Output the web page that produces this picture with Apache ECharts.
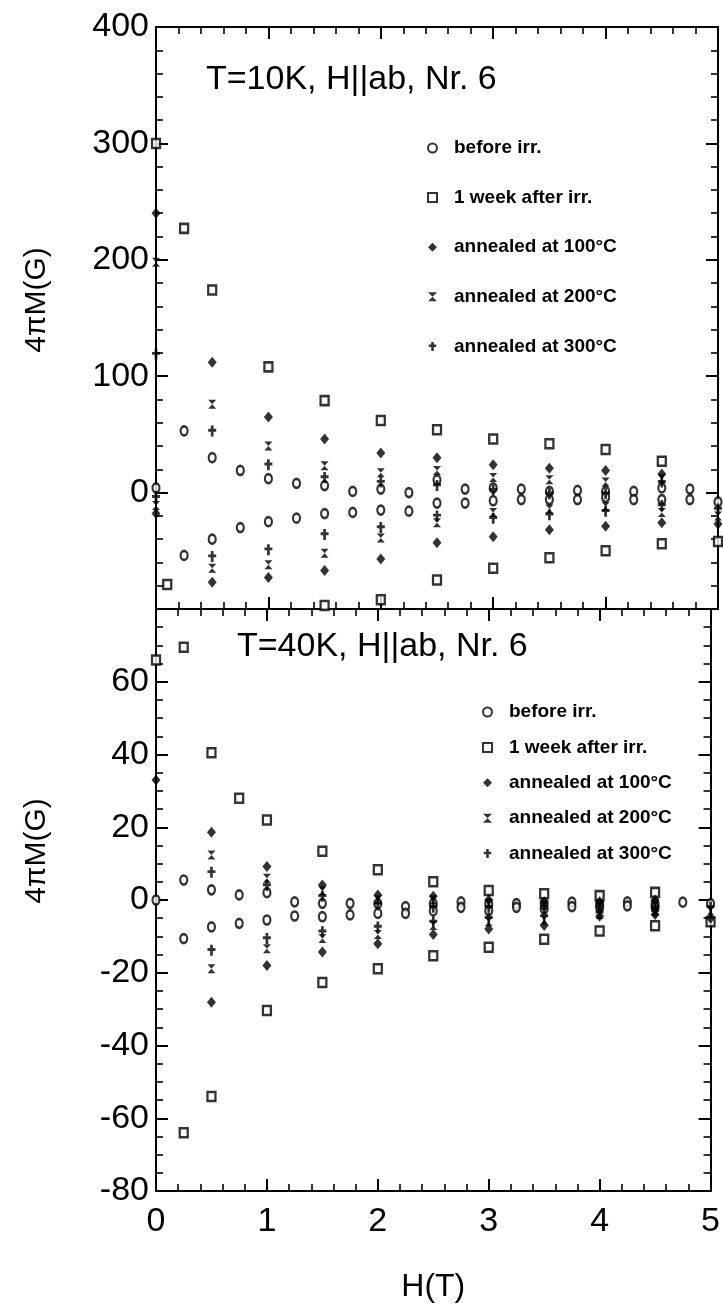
<!DOCTYPE html>
<html>
<head>
<meta charset="utf-8">
<script src="https://cdn.jsdelivr.net/npm/echarts/dist/echarts.min.js"></script>
<style>
  html, body { margin: 0; padding: 0; background: #fff; }
  #chart { width: 723px; height: 1313px; }
</style>
</head>
<body>
<div id="chart"></div>
<script>
// series names (legend)
const names = ['before irr.', '1 week after irr.', 'annealed at 100°C', 'annealed at 200°C', 'annealed at 300°C'];

// T = 10 K panel, [H(T), 4piM(G)]
const before10 = [[0,4],[0.25,53],[0.25,-54],[0.5,30],[0.5,-40],[0.75,19],[0.75,-30],[1,12],[1,-25],
  [1.25,8],[1.25,-22],[1.5,6],[1.5,-18],[1.75,1],[1.75,-17],[2,3],[2,-15],[2.25,0],[2.25,-16],
  [2.5,11],[2.5,-9],[2.75,3],[2.75,-9],[3,4],[3,-7],[3.25,3],[3.25,-6],[3.5,1],[3.5,-6],
  [3.75,2],[3.75,-6],[4,1],[4,-4],[4.25,1],[4.25,-6],[4.5,4],[4.5,-6],[4.75,3],[4.75,-6],[5,-8]];
const week10 = [[0,300],[0.1,-79],[0.25,227],[0.5,174],[1,108],[1.5,79],[1.5,-97],[2,62],[2,-92],
  [2.5,54],[2.5,-75],[3,46],[3,-65],[3.5,42],[3.5,-56],[4,37],[4,-50],[4.5,27],[4.5,-44],[5,-42]];
const ann100_10 = [[0,240],[0,-18],[0.5,112],[0.5,-77],[1,65],[1,-73],[1.5,46],[1.5,-67],[2,34],[2,-57],
  [2.5,30],[2.5,-43],[3,24],[3,-38],[3.5,21],[3.5,-32],[4,19],[4,-29],[4.5,16],[4.5,-26],[5,-27]];
const ann200_10 = [[0,198],[0,-11],[0.5,76],[0.5,-65],[1,40],[1,-62],[1.5,23],[1.5,-52],[2,17],[2,-39],
  [2.5,19],[2.5,-26],[3,13],[3,-17],[3.5,11],[3.5,-14],[4,9],[4,-12],[4.5,12],[4.5,-17],[5,-20]];
const ann300_10 = [[0,119],[0,-4],[0.5,53],[0.5,-55],[1,24],[1,-49],[1.5,13],[1.5,-36],[2,9],[2,-30],
  [2.5,6],[2.5,-20],[3,2],[3,-22],[3.5,-1],[3.5,-19],[4,-1],[4,-16],[4.5,9],[4.5,-11],[5,-14]];

// T = 40 K panel
const before40 = [[0,0],[0.25,5.5],[0.25,-10.6],[0.5,2.8],[0.5,-7.4],[0.75,1.4],[0.75,-6.4],[1,2],[1,-5.5],
  [1.25,-0.5],[1.25,-4.4],[1.5,-0.9],[1.5,-4.6],[1.75,-0.9],[1.75,-4.1],[2,-1],[2,-3.7],[2.25,-1.8],[2.25,-3.7],
  [2.5,-1],[2.5,-3],[2.75,-0.5],[2.75,-2],[3,-1],[3,-3],[3.25,-1],[3.25,-2],[3.5,-1],[3.5,-2.5],
  [3.75,-0.6],[3.75,-1.8],[4,-1],[4,-2],[4.25,-0.5],[4.25,-1.6],[4.5,-1],[4.5,-2],[4.75,-0.6],[5,-1]];
const week40 = [[0,66],[0.25,69.5],[0.25,-64],[0.5,40.5],[0.5,-54],[0.75,28],[1,22],[1,-30.4],
  [1.5,13.4],[1.5,-22.7],[2,8.3],[2,-18.9],[2.5,5],[2.5,-15.3],[3,2.6],[3,-13],[3.5,1.7],[3.5,-10.8],
  [4,1.2],[4,-8.5],[4.5,2.1],[4.5,-7.1],[5,-6]];
const ann100_40 = [[0,33],[0.5,18.6],[0.5,-28.1],[1,9.2],[1,-18],[1.5,4.1],[1.5,-14.3],[2,1.4],[2,-12],
  [2.5,1],[2.5,-9.5],[3,0],[3,-8],[3.5,-0.5],[3.5,-7],[4,-0.5],[4,-4.5],[4.5,0],[4.5,-4],[5,-5]];
const ann200_40 = [[0.5,12.4],[0.5,-18.9],[1,6],[1,-13.4],[1.5,2.5],[1.5,-10.6],[2,0],[2,-9.5],
  [2.5,0],[2.5,-7],[3,-1],[3,-6],[3.5,-1.5],[3.5,-5.5],[4,-1.5],[4,-4],[4.5,-1.5],[4.5,-3],[5,-3]];
const ann300_40 = [[0.5,7.6],[0.5,-13.8],[1,4],[1,-10.6],[1.5,1],[1.5,-8.7],[2,-1],[2,-7.4],
  [2.5,-2],[2.5,-6],[3,-2],[3,-5],[3.5,-2],[3.5,-4.5],[4,-2],[4,-3.5],[4.5,-2],[4.5,-3],[5,-2]];

// tick labels
const xTicks = [0, 1, 2, 3, 4, 5];
const yTicksTop = [0, 100, 200, 300, 400];
const yTicksBottom = [-80, -60, -40, -20, 0, 20, 40, 60];

const FONT = 'Liberation Sans, Arial, sans-serif';
const marks = [
  { symbol: 'circle', symbolSize: [7, 9], itemStyle: { color: '#fff', borderColor: '#000', borderWidth: 2.4 } },
  { symbol: 'rect', symbolSize: [8, 9], itemStyle: { color: '#fff', borderColor: '#000', borderWidth: 2.4 } },
  { symbol: 'diamond', symbolSize: [9, 11], itemStyle: { color: '#000' } },
  { symbol: 'path://M0,0L10,0L0,10L10,10Z', symbolSize: [8, 9], itemStyle: { color: '#000' } },
  { symbol: 'path://M3.3,0H6.7V3.6H10V6.8H6.7V12H3.3V6.8H0V3.6H3.3Z', symbolSize: [8, 11], itemStyle: { color: '#000' } }
];

const G = { left: 156, width: 562 };

function xAx(grid, pos, labels) {
  return {
    type: 'value', gridIndex: grid, position: pos, min: 0, max: 5, interval: 1,
    axisLine: { show: true, onZero: false, lineStyle: { color: '#000', width: 2 } },
    axisTick: { show: true, inside: true, length: 12, lineStyle: { color: '#000', width: 2 } },
    minorTick: { show: true, splitNumber: 5, length: 7, lineStyle: { color: '#000', width: 1.6 } },
    splitLine: { show: false },
    axisLabel: labels ? {
      show: true, fontSize: 34, fontFamily: FONT, color: '#000', margin: 14,
      formatter: v => xTicks.includes(v) ? String(v) : ''
    } : { show: false },
    name: labels ? 'H(T)' : '',
    nameLocation: 'middle', nameGap: 80,
    nameTextStyle: { fontSize: 32, fontFamily: FONT, color: '#000' }
  };
}

function yAx(grid, pos, min, max, step, minor, ticks) {
  return {
    type: 'value', gridIndex: grid, position: pos, min: min, max: max, interval: step,
    axisLine: { show: true, onZero: false, lineStyle: { color: '#000', width: 2 } },
    axisTick: { show: true, inside: true, length: 12, lineStyle: { color: '#000', width: 2 } },
    minorTick: { show: true, splitNumber: minor, length: 7, lineStyle: { color: '#000', width: 1.6 } },
    splitLine: { show: false },
    axisLabel: ticks ? {
      show: true, fontSize: 34, fontFamily: FONT, color: '#000', margin: 7,
      formatter: v => ticks.includes(v) ? String(v) : ''
    } : { show: false }
  };
}

const topSets = [before10, week10, ann100_10, ann200_10, ann300_10];
const botSets = [before40, week40, ann100_40, ann200_40, ann300_40];
const series = [];
topSets.forEach((d, i) => series.push(Object.assign({
  type: 'scatter', name: names[i], xAxisIndex: 0, yAxisIndex: 0, data: d, z: 5
}, marks[i])));
botSets.forEach((d, i) => series.push(Object.assign({
  type: 'scatter', name: names[i], xAxisIndex: 2, yAxisIndex: 2, data: d, z: 5
}, marks[i])));

const legendText = { fontSize: 19, fontWeight: 'bold', fontFamily: FONT, color: '#000', lineHeight: 20, padding: [0, 0, 0, 12] };

const chart = echarts.init(document.getElementById('chart'), null, { renderer: 'canvas' });
chart.setOption({
  backgroundColor: '#fff',
  animation: false,
  grid: [
    { left: G.left, width: G.width, top: 27, height: 582 },
    { left: G.left, width: G.width, top: 609, height: 582 }
  ],
  xAxis: [xAx(0, 'bottom', false), xAx(0, 'top', false), xAx(1, 'bottom', true), xAx(1, 'top', false)],
  yAxis: [
    yAx(0, 'left', -100, 400, 100, 5, yTicksTop), yAx(0, 'right', -100, 400, 100, 5, null),
    yAx(1, 'left', -80, 80, 20, 4, yTicksBottom), yAx(1, 'right', -80, 80, 20, 4, null)
  ],
  title: [
    { text: 'T=10K, H||ab, Nr. 6', left: 206, top: 63, padding: 0,
      textStyle: { fontSize: 34, fontWeight: 'normal', fontFamily: FONT, color: '#000' } },
    { text: 'T=40K, H||ab, Nr. 6', left: 237, top: 630, padding: 0,
      textStyle: { fontSize: 34, fontWeight: 'normal', fontFamily: FONT, color: '#000' } }
  ],
  legend: [
    { data: names, orient: 'vertical', left: 427, top: 138, padding: 0, itemWidth: 9, itemHeight: 9,
      itemGap: 29.6, selectedMode: false, textStyle: legendText },
    { data: names, orient: 'vertical', left: 482, top: 702, padding: 0, itemWidth: 9, itemHeight: 9,
      itemGap: 15.4, selectedMode: false, textStyle: legendText }
  ],
  graphic: [
    { type: 'text', x: 37, y: 300, rotation: Math.PI / 2,
      style: { text: '4πM(G)', font: '30px ' + FONT, fill: '#000', align: 'center', verticalAlign: 'middle' } },
    { type: 'text', x: 37, y: 851, rotation: Math.PI / 2,
      style: { text: '4πM(G)', font: '30px ' + FONT, fill: '#000', align: 'center', verticalAlign: 'middle' } }
  ],
  series: series
});
</script>
</body>
</html>
